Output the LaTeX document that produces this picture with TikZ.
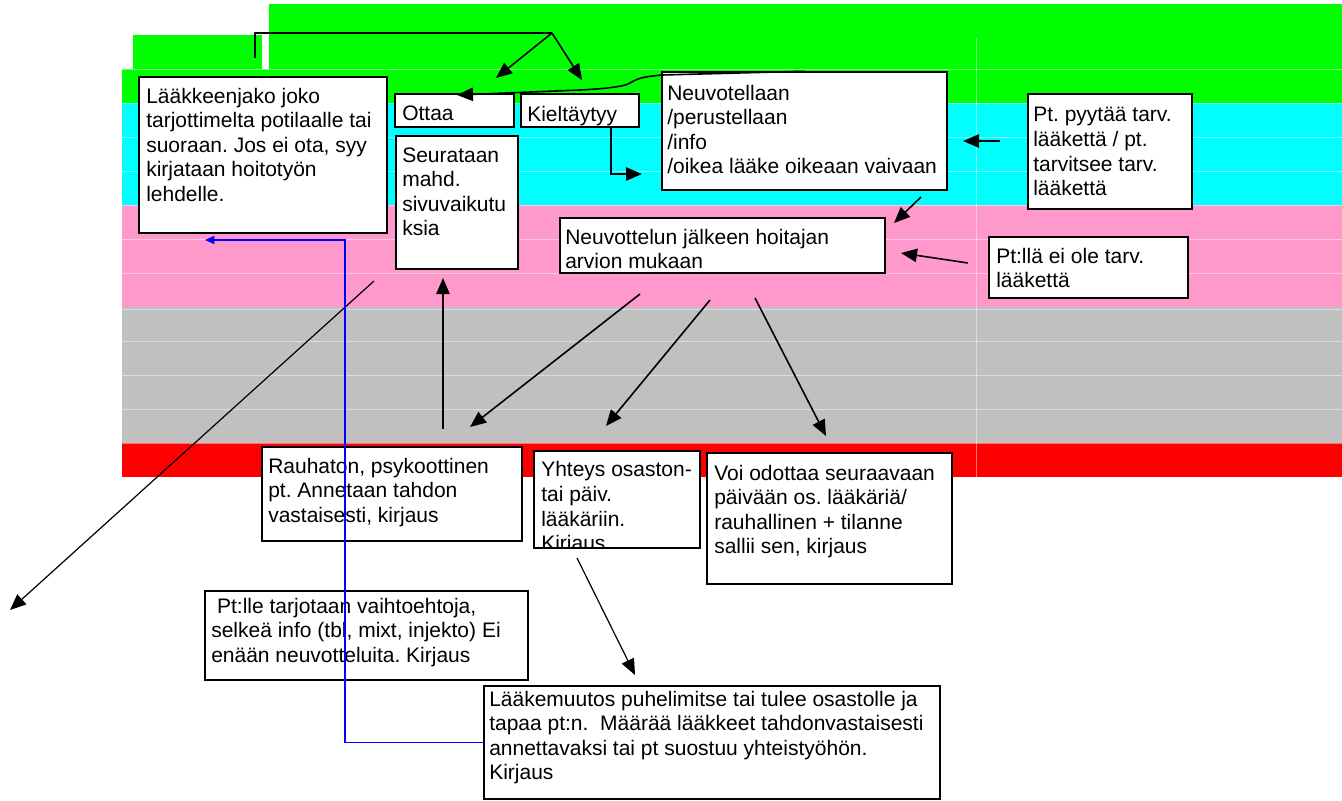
\documentclass[tikz,border=0pt]{standalone}
\usepackage{fontspec}
\setmainfont{Liberation Sans}
\usetikzlibrary{arrows.meta,fit}
\definecolor{bgreen}{RGB}{0,255,0}
\definecolor{bcyan}{RGB}{0,255,255}
\definecolor{bpink}{RGB}{255,153,204}
\definecolor{bgray}{RGB}{192,192,192}
\definecolor{bred}{RGB}{255,0,0}
\definecolor{bblue}{RGB}{0,0,255}
\frenchspacing
\begin{document}
\begin{tikzpicture}[x=0.75pt,y=-0.75pt,
  box/.style={draw=black, fill=white, line width=1.1pt, inner sep=0pt},
  txt/.style={anchor=north west, inner sep=0pt, align=left, font=\fontsize{15.75}{18.4}\selectfont},
  arr/.style={draw=black, line width=1.2pt, -{Triangle[length=12pt,width=10pt]}},
  thinarr/.style={draw=black, line width=0.9pt, -{Triangle[length=12pt,width=10pt]}},
  plainline/.style={draw=black, line width=1.2pt},
  barr/.style={draw=bblue, line width=1.1pt, -{Triangle[length=7pt,width=6pt]}},
  grid/.style={draw=white, opacity=0.45, line width=0.75pt}]
\useasboundingbox (0,0) rectangle (1342,800);
% bands
\fill[bgreen] (269,4) rectangle (1342,69);
\fill[bgreen] (133,35) rectangle (262,69);
\fill[bgreen] (122,69) rectangle (1342,103);
\fill[bcyan] (122,103) rectangle (1342,205);
\fill[bpink] (122,205) rectangle (1342,307);
\fill[bgray] (122,307) rectangle (1342,443);
\fill[bred] (122,443) rectangle (1342,477);
% faint cell grid
\foreach \yy in {69,103,137,171,205,239,273,309,341,375,409,443} {\draw[grid] (122,\yy) -- (1342,\yy);}
\draw[grid] (976,38) -- (976,477);
% boxes
\node[box, fit={(139,77) (387,233)}] (b1) {};
\node[txt] (t1) at (146,85.8) {\strut Lääkkeenjako joko\\tarjottimelta potilaalle tai\\suoraan. Jos ei ota, syy\\kirjataan hoitotyön\\lehdelle.};
\node[box, fit={(395,94) (514,127)}] (b2) {};
\node[txt] (t2) at (402,102.8) {\strut Ottaa};
\node[box, fit={(521,94) (639,127)}] (b3) {};
\begin{scope}
\clip (522,95) rectangle (638,126);
\node[txt] (t3) at (527,104) {\strut Kieltäytyy};
\end{scope}
\node[box, fit={(396,136) (518,269)}] (b4) {};
\node[txt] (t4) at (402,144.8) {\strut Seurataan\\mahd.\\sivuvaikutu\\ksia};
\node[box, fit={(662,72) (947,190)}] (b5) {};
\node[txt] (t5) at (667,82.8) {\strut Neuvotellaan\\/perustellaan\\/info\\/oikea lääke oikeaan vaivaan};
\node[box, fit={(1028,94) (1192,209)}] (b6) {};
\node[txt] (t6) at (1033,104.5) {\strut Pt. pyytää tarv.\\lääkettä / pt.\\tarvitsee tarv.\\lääkettä};
\node[box, fit={(989,237) (1188,298)}] (b7) {};
\node[txt] (t7) at (996,245.8) {\strut Pt:llä ei ole tarv.\\lääkettä};
\node[box, fit={(560,218) (885,273)}] (b8) {};
\node[txt] (t8) at (565,226.8) {\strut Neuvottelun jälkeen hoitajan\\arvion mukaan};
\node[box, fit={(262,447) (522,541)}] (b9) {};
\node[txt] (t9) at (268,455.8) {\strut Rauhaton, psykoottinen\\pt. Annetaan tahdon\\vastaisesti, kirjaus};
\node[box, fit={(534,451) (700,548)}] (b10) {};
\begin{scope}
\clip (535,452) rectangle (699,547);
\node[txt] (t10) at (541,459.5) {\strut Yhteys osaston-\\tai päiv.\\lääkäriin.\\Kirjaus};
\end{scope}
\node[box, fit={(707,453) (952,584)}] (b11) {};
\node[txt] (t11) at (714,462.8) {\strut Voi odottaa seuraavaan\\päivään os. lääkäriä/\\rauhallinen + tilanne\\sallii sen, kirjaus};
\node[box, fit={(205,591) (528,680)}] (b12) {};
\node[txt] (t12) at (211,595.8) {\strut\ Pt:lle tarjotaan vaihtoehtoja,\\selkeä info (tbl, mixt, injekto) Ei\\enään neuvotteluita. Kirjaus};
\node[box, fit={(484,686) (940,799)}] (b13) {};
\node[txt] (t13) at (489,688.8) {\strut Lääkemuutos puhelimitse tai tulee osastolle ja\\tapaa pt:n.\ \ Määrää lääkkeet tahdonvastaisesti\\annettavaksi tai pt suostuu yhteistyöhön.\\Kirjaus};
% connector coordinates
\coordinate (br0) at (255,58);
\coordinate (br2) at (552,33);
\coordinate (ot) at (496,78);
\coordinate (kt) at (582,80);
\coordinate (cv1) at (662,75);
\coordinate (cv2) at (630,83);
\coordinate (cv3) at (580,90);
\coordinate (otip) at (457,95);
\coordinate (ke1) at (611,127);
\coordinate (ke2) at (642,174);
\coordinate (pa1) at (1000,141);
\coordinate (pa2) at (963,141);
\coordinate (pb1) at (921,197);
\coordinate (pb2) at (894,223);
\coordinate (pc1) at (968,263);
\coordinate (pc2) at (901,253);
\coordinate (g1) at (374,281);
\coordinate (g2) at (10,610);
\coordinate (h1) at (443,429);
\coordinate (h2) at (443,278);
\coordinate (i1) at (640,294);
\coordinate (i2) at (470,427);
\coordinate (j1) at (710,300);
\coordinate (j2) at (606,426);
\coordinate (k1) at (755,298);
\coordinate (k2) at (826,436);
\coordinate (l1) at (577,558);
\coordinate (l2) at (635,675);
\coordinate (bl1) at (345,240);
\coordinate (bl2) at (205,240);
% connectors
\draw[plainline] (br0) |- (br2);
\draw[arr] (br2) -- (ot);
\draw[arr] (br2) -- (kt);
\draw[arr] (b5.north) -- (cv1) .. controls (640,77) and (637,79) .. (cv2) .. controls (624,87) and (600,89) .. (cv3) -- (otip);
\draw[arr] (ke1) |- (ke2);
\draw[arr] (pa1) -- (pa2);
\draw[arr] (pb1) -- (pb2);
\draw[arr] (pc1) -- (pc2);
\draw[thinarr] (g1) -- (g2);
\draw[arr] (h1) -- (h2);
\draw[arr] (i1) -- (i2);
\draw[arr] (j1) -- (j2);
\draw[arr] (k1) -- (k2);
\draw[thinarr] (l1) -- (l2);
\draw[barr] (b13.west) -| (bl1) -- (bl2);
\end{tikzpicture}
\end{document}
